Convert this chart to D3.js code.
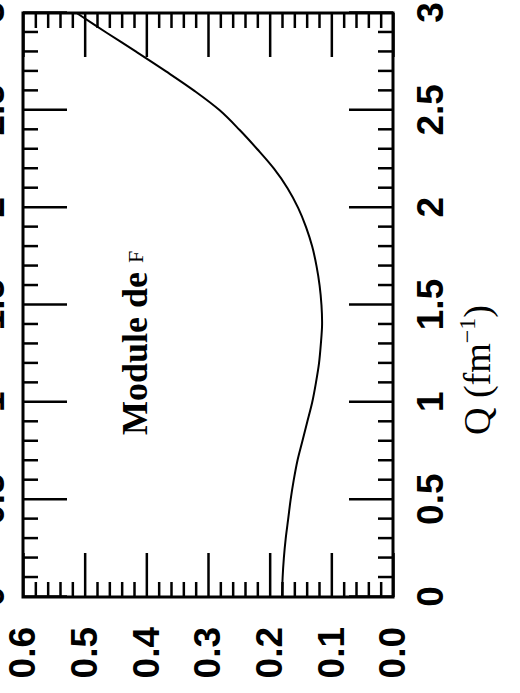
<!DOCTYPE html>
<html>
<head>
<meta charset="utf-8">
<script src="https://cdn.jsdelivr.net/npm/d3@7"></script>
<style>
  html, body { margin: 0; padding: 0; background: #fff; }
</style>
</head>
<body>
<div id="chart"></div>
<script>
// momentum transfer Q (fm^-1) and |F|
const qValues = [0, 0.1, 0.2, 0.3, 0.4, 0.5, 0.6, 0.7, 0.8, 0.9, 1.0,
  1.1, 1.2, 1.3, 1.4, 1.5, 1.6, 1.7, 1.8, 1.9, 2.0,
  2.1, 2.2, 2.3, 2.4, 2.5, 2.6, 2.7, 2.8, 2.9, 3.0];
const moduleValues = [0.180, 0.179, 0.177, 0.174, 0.170, 0.166, 0.161, 0.155, 0.147, 0.139, 0.131,
  0.125, 0.120, 0.117, 0.115, 0.116, 0.119, 0.124, 0.131, 0.141, 0.154,
  0.171, 0.193, 0.220, 0.249, 0.281, 0.322, 0.368, 0.416, 0.465, 0.513];

const qTicks = [0, 0.5, 1, 1.5, 2, 2.5, 3];
const qTickLabels = ['0', '0.5', '1', '1.5', '2', '2.5', '3'];
const yTicks = [0, 0.1, 0.2, 0.3, 0.4, 0.5, 0.6];
const yTickLabels = ['0.0', '0.1', '0.2', '0.3', '0.4', '0.5', '0.6'];

const pageWidth = 520;
const pageHeight = 693;

// the figure is drawn in its own frame, then turned a quarter turn
const width = pageHeight;
const height = pageWidth;
const margin = { top: 23, right: 13, bottom: 127, left: 96 };
const innerWidth = width - margin.left - margin.right;
const innerHeight = height - margin.top - margin.bottom;
const major = 44;
const minor = 15;

const svg = d3.select('#chart')
  .append('svg')
  .attr('width', pageWidth)
  .attr('height', pageHeight);

const g = svg.append('g')
  .attr('transform', `translate(0, ${pageHeight}) rotate(-90) translate(${margin.left}, ${margin.top})`);

const x = d3.scaleLinear().domain([0, 3]).range([0, innerWidth]);
const y = d3.scaleLinear().domain([0, 0.6]).range([innerHeight, 0]);

const qMinor = d3.range(1, 30).filter(i => i % 5 !== 0).map(i => i / 10);
const yMinor = d3.range(1, 30).filter(i => i % 5 !== 0).map(i => i / 50);

function styleAxis(sel) {
  sel.select('.domain').remove();
  sel.selectAll('line').attr('stroke', '#000').attr('stroke-width', 2.5);
  sel.selectAll('text')
    .attr('fill', '#000')
    .attr('font-family', '"Liberation Sans", Arial, sans-serif')
    .attr('font-weight', 'bold')
    .attr('font-size', 37);
}

// bottom (Q labels)
g.append('g')
  .attr('transform', `translate(0, ${innerHeight})`)
  .call(d3.axisBottom(x).tickValues(qTicks).tickSize(-major).tickPadding(24)
    .tickFormat((d, i) => qTickLabels[i]))
  .call(styleAxis);
g.append('g')
  .attr('transform', `translate(0, ${innerHeight})`)
  .call(d3.axisBottom(x).tickValues(qMinor).tickSize(-minor).tickFormat(''))
  .call(styleAxis);

// top (mirrored Q labels, mostly off the page)
g.append('g')
  .call(d3.axisTop(x).tickValues(qTicks).tickSize(-major).tickPadding(19)
    .tickFormat((d, i) => qTickLabels[i]))
  .call(styleAxis);
g.append('g')
  .call(d3.axisTop(x).tickValues(qMinor).tickSize(-minor).tickFormat(''))
  .call(styleAxis);

// left (module labels)
g.append('g')
  .call(d3.axisLeft(y).tickValues(yTicks).tickSize(-major).tickPadding(30)
    .tickFormat((d, i) => yTickLabels[i]))
  .call(styleAxis);
g.append('g')
  .call(d3.axisLeft(y).tickValues(yMinor).tickSize(-minor).tickFormat(''))
  .call(styleAxis);

// right
g.append('g')
  .attr('transform', `translate(${innerWidth}, 0)`)
  .call(d3.axisRight(y).tickValues(yTicks).tickSize(-major).tickFormat(''))
  .call(styleAxis);
g.append('g')
  .attr('transform', `translate(${innerWidth}, 0)`)
  .call(d3.axisRight(y).tickValues(yMinor).tickSize(-minor).tickFormat(''))
  .call(styleAxis);

// frame
g.append('rect')
  .attr('width', innerWidth)
  .attr('height', innerHeight)
  .attr('fill', 'none')
  .attr('stroke', '#000')
  .attr('stroke-width', 3);

const line = d3.line()
  .x((d, i) => x(qValues[i]))
  .y(d => y(d))
  .curve(d3.curveCatmullRom);

g.append('path')
  .datum(moduleValues)
  .attr('d', line)
  .attr('fill', 'none')
  .attr('stroke', '#000')
  .attr('stroke-width', 2);

// axis title
const title = g.append('text')
  .attr('x', 227)
  .attr('y', 467)
  .attr('text-anchor', 'middle')
  .attr('font-family', '"Liberation Serif", "Times New Roman", serif')
  .attr('font-size', 38)
  .attr('fill', '#000');
title.append('tspan').text('Q (fm');
title.append('tspan').attr('dy', -15).attr('font-size', 24).text('\u22121');
title.append('tspan').attr('dy', 15).text(')');

// inset label
const label = g.append('text')
  .attr('x', 162)
  .attr('y', 124)
  .attr('font-family', '"Liberation Serif", "Times New Roman", serif')
  .attr('font-weight', 'bold')
  .attr('font-size', 36)
  .attr('fill', '#000');
label.append('tspan').text('Module de ');
label.append('tspan').attr('font-size', 22).attr('font-weight', 'normal').attr('dy', -4).text('F');
</script>
</body>
</html>
